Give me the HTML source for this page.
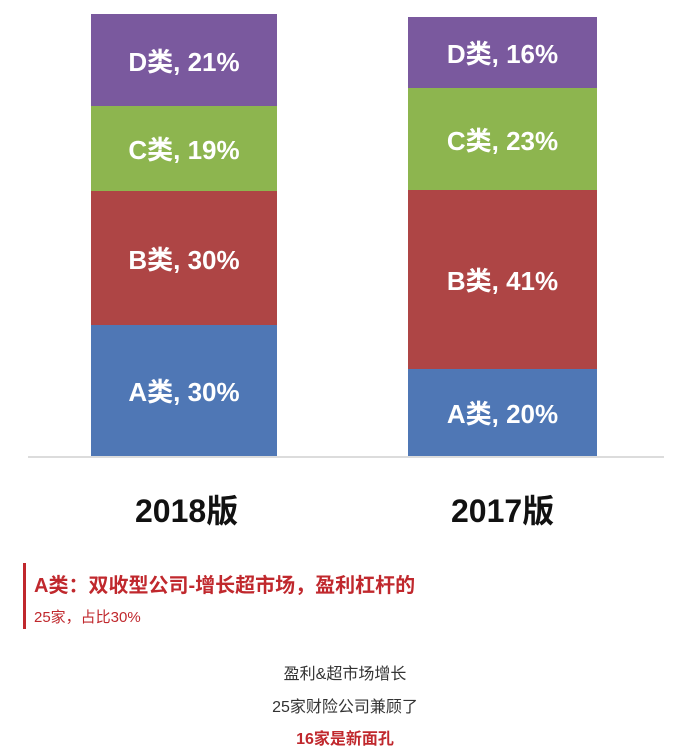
<!DOCTYPE html>
<html><head><meta charset="utf-8"><style>
body{margin:0;width:676px;height:754px;background:#fff;position:relative;overflow:hidden;font-family:"Liberation Sans","Noto Sans CJK SC",sans-serif}
.s{position:absolute;color:#fff;font-weight:bold;font-size:26px;display:flex;align-items:center;justify-content:center}
.t{position:absolute;white-space:nowrap}
</style></head><body>
<div class="s" style="left:91px;width:186px;top:14px;height:92px;background:#7a599e">D类, 21%</div>
<div class="s" style="left:91px;width:186px;top:106px;height:85px;background:#8db54f">C类, 19%</div>
<div class="s" style="left:91px;width:186px;top:191px;height:134px;background:#ae4545">B类, 30%</div>
<div class="s" style="left:91px;width:186px;top:325px;height:131px;background:#4f77b5">A类, 30%</div>
<div class="s" style="left:408px;width:189px;top:17px;height:71px;background:#7a599e">D类, 16%</div>
<div class="s" style="left:408px;width:189px;top:88px;height:102px;background:#8db54f">C类, 23%</div>
<div class="s" style="left:408px;width:189px;top:190px;height:179px;background:#ae4545">B类, 41%</div>
<div class="s" style="left:408px;width:189px;top:369px;height:87px;background:#4f77b5">A类, 20%</div>
<div style="position:absolute;left:28px;width:636px;top:456px;height:2px;background:#dcdcdc"></div>
<div class="t" style="left:135px;top:486px;font-size:32px;font-weight:bold;color:#111">2018版</div>
<div class="t" style="left:451px;top:486px;font-size:32px;font-weight:bold;color:#111">2017版</div>
<div style="position:absolute;left:23px;top:563px;width:3px;height:66px;background:#c0282d"></div>
<div class="t" style="left:34px;top:569px;font-size:20px;font-weight:bold;color:#c0282d">A类：双收型公司-增长超市场，盈利杠杆的</div>
<div class="t" style="left:34px;top:606px;font-size:15px;color:#c0282d">25家，占比30%</div>
<div class="t" style="left:0;width:690px;text-align:center;top:660px;font-size:16px;color:#333">盈利&amp;超市场增长</div>
<div class="t" style="left:0;width:690px;text-align:center;top:693px;font-size:16px;color:#333">25家财险公司兼顾了</div>
<div class="t" style="left:0;width:690px;text-align:center;top:725px;font-size:16px;font-weight:bold;color:#c0282d">16家是新面孔</div>
</body></html>
